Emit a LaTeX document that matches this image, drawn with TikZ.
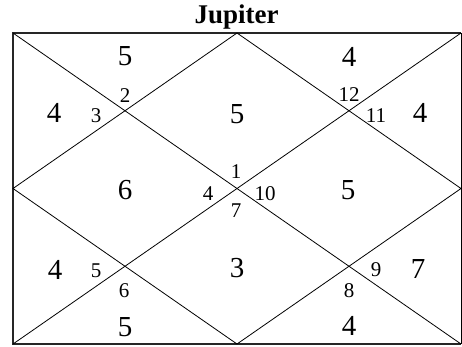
\documentclass[tikz,border=0pt]{standalone}
\usepackage{fontspec}
\setmainfont{Liberation Serif}
\begin{document}
\begin{tikzpicture}[x=1pt,y=-1pt,
  big/.style={inner sep=0pt,font=\fontsize{29}{29}\selectfont},
  small/.style={inner sep=0pt,font=\fontsize{21}{21}\selectfont},
  ttl/.style={inner sep=0pt,anchor=base,font=\fontsize{27}{27}\selectfont\bfseries},
  thin/.style={line width=0.8pt,black},
  frame/.style={line width=2pt,black!85}]
\useasboundingbox (0,0) rectangle (462,346);
% corners and midpoints
\coordinate (tl) at (13,33);
\coordinate (tr) at (461,33);
\coordinate (bl) at (13,344);
\coordinate (br) at (461,344);
\coordinate (tm) at (237,33);
\coordinate (bm) at (237,344);
\coordinate (lm) at (13,188.5);
\coordinate (rm) at (461,188.5);
% frame
\draw[frame] (tr) -- (tl) -- (bl) -- (br);
\draw[thin] (tr) -- (br);
% diagonals
\draw[thin] (tl) -- (br);
\draw[thin] (tr) -- (bl);
% diamond
\draw[thin] (tm) -- (rm) -- (bm) -- (lm) -- cycle;
% title
\node[ttl] (title) at (236.5,23) {Jupiter};
% big numbers
\node[big] (h1) at (237,114) {5};
\node[big] (h2) at (125,56) {5};
\node[big] (h3) at (54,113) {4};
\node[big] (h4) at (125,190) {6};
\node[big] (h5) at (55,270) {4};
\node[big] (h6) at (125,327) {5};
\node[big] (h7) at (237,268) {3};
\node[big] (h8) at (349,326) {4};
\node[big] (h9) at (418,269) {7};
\node[big] (h10) at (348,190) {5};
\node[big] (h11) at (420,113) {4};
\node[big] (h12) at (349,57) {4};
% small numbers
\node[small] (s2) at (125,96) {2};
\node[small] (s3) at (96,116) {3};
\node[small] (s12) at (349,95) {12};
\node[small] (s11) at (376,116) {11};
\node[small] (s1) at (236,172) {1};
\node[small] (s4) at (208,194) {4};
\node[small] (s10) at (265,194) {10};
\node[small] (s7) at (236,211) {7};
\node[small] (s5) at (96,271) {5};
\node[small] (s6) at (124,291) {6};
\node[small] (s9) at (376,270) {9};
\node[small] (s8) at (349,291) {8};
\end{tikzpicture}
\end{document}
